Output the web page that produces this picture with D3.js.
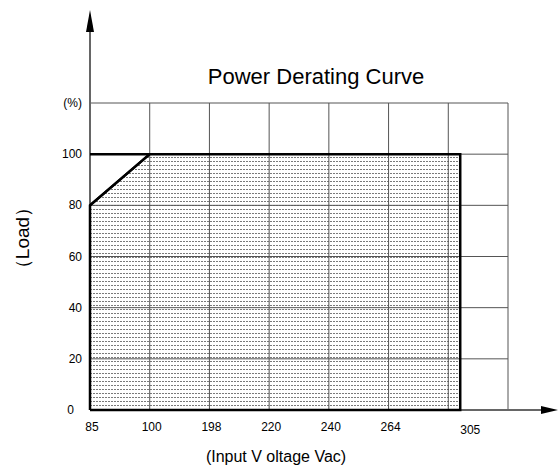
<!DOCTYPE html>
<html>
<head>
<meta charset="utf-8">
<script src="https://cdn.jsdelivr.net/npm/d3@7"></script>
<style>
  body { margin: 0; background: #fff; }
  text { font-family: "Liberation Sans", Arial, sans-serif; fill: #000; }
</style>
</head>
<body>
<div id="chart"></div>
<script>
var svgWidth = 560;
var svgHeight = 470;

// x ticks are categories placed on the grid columns (305 sits a bit past column 6)
var xLabels = ['85', '100', '198', '220', '240', '264', '305'];
var xIndex = [0, 1, 2, 3, 4, 5, 6.2];
var yTicks = [0, 20, 40, 60, 80, 100];

// derating curve: input voltage -> load (%)
var curveVolt = ['85', '100', '305', '305'];
var curveLoad = [80, 100, 100, 0];

var plot = { left: 90, right: 508, top: 103, bottom: 410 };

var x = d3.scaleLinear().domain([0, 7]).range([plot.left, plot.right]);
var y = d3.scaleLinear().domain([0, 120]).range([plot.bottom, plot.top]);

function xv(v) { return x(xIndex[xLabels.indexOf(v)]); }

var svg = d3.select('#chart').append('svg')
    .attr('width', svgWidth)
    .attr('height', svgHeight);

// dotted fill pattern
var defs = svg.append('defs');
var pat = defs.append('pattern')
    .attr('id', 'dots')
    .attr('patternUnits', 'userSpaceOnUse')
    .attr('width', 3)
    .attr('height', 4);
pat.append('rect').attr('x', 0).attr('y', 1).attr('width', 2).attr('height', 1).attr('fill', '#7a7a7a');

// filled area under the curve
var pts = curveVolt.map((v, i) => [xv(v), y(curveLoad[i])]);
var areaPts = [[plot.left, y(0)]].concat(pts);
svg.append('path')
    .attr('d', d3.line()(areaPts) + 'Z')
    .attr('fill', 'url(#dots)');

// grid
svg.selectAll('.vgrid')
    .data(d3.range(0, 8))
    .enter()
    .append('line')
    .attr('x1', d => x(d)).attr('x2', d => x(d))
    .attr('y1', plot.top).attr('y2', plot.bottom)
    .attr('stroke', '#555')
    .attr('stroke-width', 1);

svg.selectAll('.hgrid')
    .data(d3.range(0, 121, 20))
    .enter()
    .append('line')
    .attr('x1', plot.left).attr('x2', plot.right)
    .attr('y1', d => y(d)).attr('y2', d => y(d))
    .attr('stroke', '#555')
    .attr('stroke-width', 1);

// axes with arrows
svg.append('line')
    .attr('x1', plot.left).attr('x2', 545)
    .attr('y1', plot.bottom).attr('y2', plot.bottom)
    .attr('stroke', '#666').attr('stroke-width', 2);
svg.append('path')
    .attr('d', 'M541,406 L558,410 L541,414 Z')
    .attr('fill', '#000');

svg.append('line')
    .attr('x1', plot.left).attr('x2', plot.left)
    .attr('y1', plot.bottom).attr('y2', 28)
    .attr('stroke', '#666').attr('stroke-width', 2);
svg.append('path')
    .attr('d', 'M86,32 L90,10 L94,32 Z')
    .attr('fill', '#000');

// curve outline
var outline = [[plot.left, y(0)], [plot.left, y(curveLoad[0])]].concat(pts.slice(1)).concat([[plot.left, y(0)]]);
svg.append('path')
    .attr('d', d3.line()(outline))
    .attr('fill', 'none')
    .attr('stroke', '#000')
    .attr('stroke-width', 2.5);
svg.append('line')
    .attr('x1', plot.left).attr('x2', xv('100'))
    .attr('y1', y(100)).attr('y2', y(100))
    .attr('stroke', '#000').attr('stroke-width', 2.5);
svg.append('path')
    .attr('d', d3.line()(pts.slice(0, 2)))
    .attr('stroke', '#000').attr('stroke-width', 2.5);

// x tick labels
svg.selectAll('.xlab')
    .data(xLabels)
    .enter()
    .append('text')
    .attr('x', (d, i) => xv(d) + (i == 6 ? 10 : 2))
    .attr('y', (d, i) => i == 6 ? 434 : 431)
    .attr('text-anchor', 'middle')
    .attr('font-size', '12px')
    .text(d => d);

// y tick labels
svg.selectAll('.ylab')
    .data(yTicks)
    .enter()
    .append('text')
    .attr('x', d => d == 0 ? 74 : 82)
    .attr('y', d => y(d) + 4)
    .attr('text-anchor', 'end')
    .attr('font-size', '12px')
    .text(d => d);

svg.append('text')
    .attr('x', 82).attr('y', plot.top + 4)
    .attr('text-anchor', 'end')
    .attr('font-size', '12px')
    .text('(%)');

// titles
svg.append('text')
    .attr('x', 316).attr('y', 84)
    .attr('text-anchor', 'middle')
    .attr('font-size', '22px')
    .text('Power Derating Curve');

svg.append('text')
    .attr('x', 276).attr('y', 462)
    .attr('text-anchor', 'middle')
    .attr('font-size', '16px')
    .text('(Input V oltage Vac)');

svg.append('text')
    .attr('transform', 'translate(29, 238) rotate(-90)')
    .attr('text-anchor', 'middle')
    .attr('font-size', '19px')
    .text('（Load）');
</script>
</body>
</html>
